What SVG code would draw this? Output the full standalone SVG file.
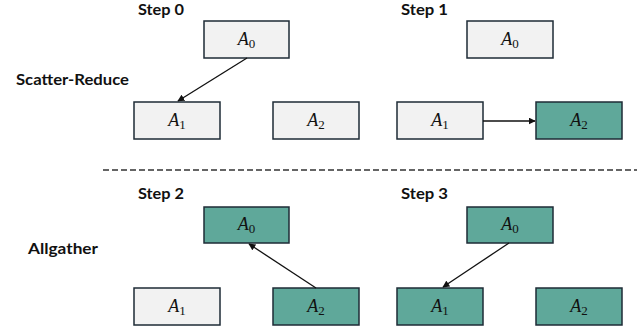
<svg xmlns="http://www.w3.org/2000/svg" width="637" height="334" viewBox="0 0 637 334">
<style>
.lbl{font-family:"Lato","Open Sans","Liberation Sans",sans-serif;font-weight:bold;font-size:15px;fill:#111}
.w{fill:#f2f2f2;stroke:#1e2b36;stroke-width:1.5}
.g{fill:#5fa89a;stroke:#1e2b36;stroke-width:1.5}
.v{font-family:"Liberation Serif","DejaVu Serif",serif;font-size:18px;fill:#111;text-anchor:middle}
.v .a{font-style:italic}
.v .s{font-size:13px}
.c{stroke:#111;stroke-width:1.3;fill:none;marker-end:url(#ah)}
</style>
<defs>
<marker id="ah" viewBox="0 0 10 10" refX="9" refY="5" markerWidth="7" markerHeight="7" markerUnits="userSpaceOnUse" orient="auto">
<path d="M0,0 L10,5 L0,10 z" fill="#111"/>
</marker>
</defs>
<rect width="637" height="334" fill="#ffffff"/>
<g id="titles">
<text class="lbl" x="138" y="15" textLength="46" lengthAdjust="spacingAndGlyphs">Step 0</text>
<text class="lbl" x="401" y="15" textLength="47" lengthAdjust="spacingAndGlyphs">Step 1</text>
<text class="lbl" x="16" y="85" textLength="113" lengthAdjust="spacingAndGlyphs">Scatter-Reduce</text>
<text class="lbl" x="138" y="199" textLength="46" lengthAdjust="spacingAndGlyphs">Step 2</text>
<text class="lbl" x="401" y="199" textLength="47" lengthAdjust="spacingAndGlyphs">Step 3</text>
<text class="lbl" x="28" y="254" textLength="70" lengthAdjust="spacingAndGlyphs">Allgather</text>
</g>
<line x1="103" y1="170" x2="637" y2="170" stroke="#333" stroke-width="1.5" stroke-dasharray="6,3"/>
<g id="s0A0"><rect class="w" x="204" y="21" width="85" height="37"/><text class="v" x="246.5" y="45"><tspan class="a">A</tspan><tspan class="s" dy="3">0</tspan></text></g>
<g id="s0A1"><rect class="w" x="134" y="102" width="86" height="37"/><text class="v" x="177" y="126"><tspan class="a">A</tspan><tspan class="s" dy="3">1</tspan></text></g>
<g id="s0A2"><rect class="w" x="273" y="102" width="86" height="37"/><text class="v" x="316" y="126"><tspan class="a">A</tspan><tspan class="s" dy="3">2</tspan></text></g>
<g id="s1A0"><rect class="w" x="467" y="21" width="86" height="37"/><text class="v" x="510" y="45"><tspan class="a">A</tspan><tspan class="s" dy="3">0</tspan></text></g>
<g id="s1A1"><rect class="w" x="397" y="102" width="86" height="37"/><text class="v" x="440" y="126"><tspan class="a">A</tspan><tspan class="s" dy="3">1</tspan></text></g>
<g id="s1A2"><rect class="g" x="536" y="102" width="86" height="37"/><text class="v" x="579" y="126"><tspan class="a">A</tspan><tspan class="s" dy="3">2</tspan></text></g>
<g id="s2A0"><rect class="g" x="204" y="207" width="85" height="36"/><text class="v" x="246.5" y="230"><tspan class="a">A</tspan><tspan class="s" dy="3">0</tspan></text></g>
<g id="s2A1"><rect class="w" x="134" y="288" width="86" height="37"/><text class="v" x="177" y="312"><tspan class="a">A</tspan><tspan class="s" dy="3">1</tspan></text></g>
<g id="s2A2"><rect class="g" x="273" y="288" width="86" height="37"/><text class="v" x="316" y="312"><tspan class="a">A</tspan><tspan class="s" dy="3">2</tspan></text></g>
<g id="s3A0"><rect class="g" x="467" y="207" width="86" height="36"/><text class="v" x="510" y="230"><tspan class="a">A</tspan><tspan class="s" dy="3">0</tspan></text></g>
<g id="s3A1"><rect class="g" x="397" y="288" width="86" height="37"/><text class="v" x="440" y="312"><tspan class="a">A</tspan><tspan class="s" dy="3">1</tspan></text></g>
<g id="s3A2"><rect class="g" x="536" y="288" width="86" height="37"/><text class="v" x="579" y="312"><tspan class="a">A</tspan><tspan class="s" dy="3">2</tspan></text></g>
<g id="connectors">
<line class="c" x1="247" y1="58" x2="178" y2="101"/>
<line class="c" x1="483" y1="121" x2="535" y2="121"/>
<line class="c" x1="316" y1="288" x2="249" y2="244"/>
<line class="c" x1="509" y1="243" x2="443" y2="287"/>
</g>
</svg>
